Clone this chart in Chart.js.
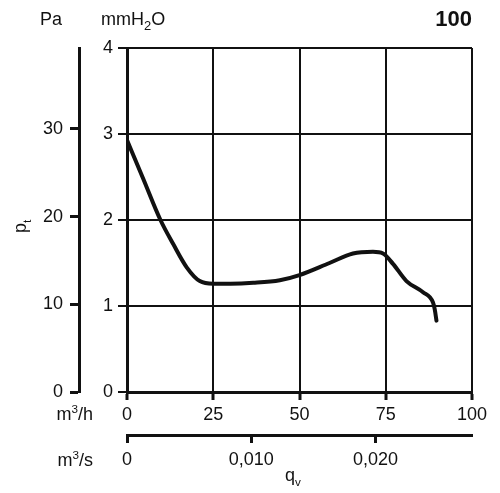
<!DOCTYPE html>
<html>
<head>
<meta charset="utf-8">
<script src="https://cdn.jsdelivr.net/npm/chart.js@4.4.1/dist/chart.umd.min.js"></script>
<style>
  html, body { margin: 0; padding: 0; background: #fff; }
  #wrap { width: 500px; height: 493px; }
</style>
</head>
<body>
<div id="wrap"><canvas id="fanChart"></canvas></div>
<script>
// fan curve: total pressure (mmH2O) vs air flow (m3/h)
const flowM3h = [0, 4.7, 9.7, 13.4, 17.3, 21.1, 25, 30, 36.6, 44.3, 50, 58.7, 65.5, 71.3, 74.2, 77.1, 81, 85.8, 88.7, 89.2, 89.7];
const pressureMmH2O = [2.93, 2.48, 2.00, 1.72, 1.45, 1.29, 1.26, 1.26, 1.27, 1.30, 1.36, 1.50, 1.61, 1.63, 1.61, 1.49, 1.29, 1.16, 1.04, 0.96, 0.83];

const paTicks = [0, 10, 20, 30];
const m3sTicks = [0, 0.010, 0.020];
const m3sTickLabels = ['0', '0,010', '0,020'];

const INK = '#111';
const FONT = '"Liberation Sans", Arial, Helvetica, sans-serif';

// draws text with sub/superscript pieces: [text, 0 normal | 1 sub | 2 sup]
function drawParts(ctx, parts, x, y, size, align, bold, small) {
    const k = small || 0.65;
    const w = parts.map(function(p) {
        ctx.font = (bold ? 'bold ' : '') + (p[1] ? size * k : size) + 'px ' + FONT;
        return ctx.measureText(p[0]).width;
    });
    const total = w.reduce(function(a, b) { return a + b; }, 0);
    let cx = align === 'right' ? x - total : x;
    parts.forEach(function(p, i) {
        ctx.font = (bold ? 'bold ' : '') + (p[1] ? size * k : size) + 'px ' + FONT;
        const dy = p[1] === 1 ? size * 0.28 : (p[1] === 2 ? -size * 0.4 : 0);
        ctx.fillText(p[0], cx, y + dy);
        cx += w[i];
    });
}

const labelsPlugin = {
    id: 'axisLabels',
    afterDraw: function(chart) {
        const ctx = chart.ctx;
        ctx.save();
        ctx.fillStyle = INK;
        ctx.textBaseline = 'alphabetic';
        ctx.textAlign = 'left';
        drawParts(ctx, [['Pa', 0]], 40, 25, 18);
        drawParts(ctx, [['mmH', 0], ['2', 1], ['O', 0]], 101, 25, 18, 'left', false, 0.72);
        drawParts(ctx, [['100', 0]], 472, 26, 22, 'right', true);
        drawParts(ctx, [['m', 0], ['3', 2], ['/h', 0]], 93, 420, 18, 'right');
        drawParts(ctx, [['m', 0], ['3', 2], ['/s', 0]], 93, 466, 18, 'right');
        drawParts(ctx, [['q', 0], ['v', 1]], 285, 481, 18);
        ctx.translate(26, 233);
        ctx.rotate(-Math.PI / 2);
        drawParts(ctx, [['p', 0], ['t', 1]], 0, 0, 18);
        ctx.restore();
    }
};

const tickFont = { family: FONT, size: 18 };

new Chart(document.getElementById('fanChart'), {
    type: 'line',
    data: {
        datasets: [{
            data: flowM3h.map(function(q, i) { return { x: q, y: pressureMmH2O[i] }; }),
            borderColor: INK,
            borderWidth: 4,
            borderCapStyle: 'round',
            borderJoinStyle: 'round',
            pointRadius: 0,
            tension: 0.4,
            cubicInterpolationMode: 'monotone',
            xAxisID: 'x',
            yAxisID: 'y'
        }]
    },
    options: {
        responsive: true,
        maintainAspectRatio: false,
        animation: false,
        layout: { padding: { left: 10, right: 28, top: 48, bottom: 8 } },
        plugins: { legend: { display: false }, tooltip: { enabled: false } },
        scales: {
            x: {
                type: 'linear', position: 'bottom', weight: 0,
                min: 0, max: 100,
                ticks: { stepSize: 25, color: INK, font: tickFont, padding: 4, maxRotation: 0 },
                grid: { color: INK, lineWidth: 2, tickLength: 8, tickWidth: 3 },
                border: { color: INK, width: 3 },
                afterFit: function(s) { s.height = 43; }
            },
            x2: {
                type: 'linear', position: 'bottom', weight: 1,
                min: 0, max: 100 / 3600,
                afterBuildTicks: function(s) { s.ticks = m3sTicks.map(function(v) { return { value: v }; }); },
                ticks: { color: INK, font: tickFont, padding: 6, maxRotation: 0,
                    callback: function(v, i) { return m3sTickLabels[i]; } },
                grid: { drawOnChartArea: false, color: INK, tickLength: 8, tickWidth: 3 },
                border: { color: INK, width: 3 },
                afterFit: function(s) { s.height = 50; }
            },
            y: {
                type: 'linear', position: 'left', weight: 0,
                min: 0, max: 4,
                ticks: { stepSize: 1, color: INK, font: tickFont, padding: 5 },
                grid: { color: INK, lineWidth: 2, tickLength: 9, tickWidth: 2 },
                border: { color: INK, width: 3 },
                afterFit: function(s) { s.width = 48; }
            },
            y2: {
                type: 'linear', position: 'left', weight: 1,
                min: 0, max: 4 * 9.80665,
                afterBuildTicks: function(s) { s.ticks = paTicks.map(function(v) { return { value: v }; }); },
                ticks: { color: INK, font: tickFont, padding: 7 },
                grid: { drawOnChartArea: false, color: INK, tickLength: 9, tickWidth: 3 },
                border: { color: INK, width: 3 },
                afterFit: function(s) { s.width = 69; }
            }
        }
    },
    plugins: [labelsPlugin]
});
</script>
</body>
</html>
